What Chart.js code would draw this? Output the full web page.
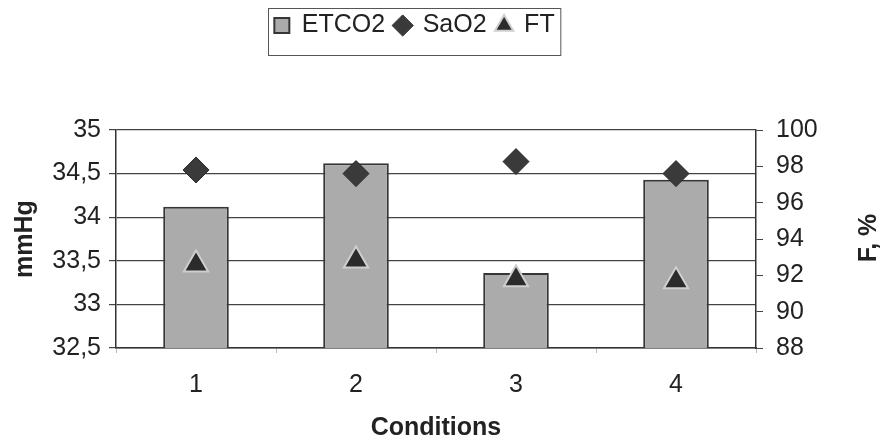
<!DOCTYPE html>
<html>
<head>
<meta charset="utf-8">
<script src="https://cdn.jsdelivr.net/npm/chart.js@4"></script>
<style>
  body { margin: 0; background: #fff; }
  canvas { display: block; }
</style>
</head>
<body>
<canvas id="chart" width="880" height="441"></canvas>
<script>
// values
const conditions = ['1', '2', '3', '4'];
const etco2 = [34.12, 34.62, 33.36, 34.43];   // mmHg, left axis
const sao2 = [97.8, 97.6, 98.26, 97.6];       // %, right axis
const ft = [92.6, 92.82, 91.78, 91.68];       // %, right axis

const FONT = "'Liberation Sans', Arial, sans-serif";

// box round the legend and the clipped right-hand axis title
const extras = {
  id: 'extras',
  afterDraw(chart) {
    const ctx = chart.ctx;
    const boxes = chart.legend.legendHitBoxes;
    if (boxes && boxes.length) {
      const left = Math.min(...boxes.map(b => b.left));
      const right = Math.max(...boxes.map(b => b.left + b.width));
      const mid = (Math.min(...boxes.map(b => b.top)) + Math.max(...boxes.map(b => b.top + b.height))) / 2;
      ctx.save();
      ctx.strokeStyle = '#555';
      ctx.lineWidth = 1;
      ctx.strokeRect(Math.round(left) - 5.5, Math.round(mid) - 17.5, right - left + 12, 47);
      ctx.restore();
    }
    ctx.save();
    ctx.translate(876, 238);
    ctx.rotate(-Math.PI / 2);
    ctx.font = 'bold 25px ' + FONT;
    ctx.fillStyle = '#222';
    ctx.textAlign = 'center';
    ctx.textBaseline = 'alphabetic';
    ctx.fillText('F, %', 0, 0);
    ctx.restore();
  }
};

new Chart(document.getElementById('chart'), {
  data: {
    labels: conditions,
    datasets: [
      {
        type: 'bar',
        label: 'ETCO2',
        data: etco2,
        yAxisID: 'y',
        backgroundColor: '#ababab',
        borderColor: '#363636',
        borderWidth: 2,
        categoryPercentage: 1,
        barPercentage: 0.41,
        pointStyle: 'rect',
        order: 3
      },
      {
        type: 'line',
        label: 'SaO2',
        data: sao2,
        yAxisID: 'y1',
        showLine: false,
        pointStyle: 'rectRot',
        pointRadius: 13,
        pointBackgroundColor: '#3a3a3a',
        pointBorderColor: '#2a2a2a',
        pointBorderWidth: 1,
        backgroundColor: '#2a2a2a',
        borderColor: '#2a2a2a',
        order: 1
      },
      {
        type: 'line',
        label: 'FT',
        data: ft,
        yAxisID: 'y1',
        showLine: false,
        pointStyle: 'triangle',
        pointRadius: 14,
        pointBackgroundColor: '#2b2b2b',
        pointBorderColor: '#cfcfcf',
        pointBorderWidth: 2,
        backgroundColor: '#2b2b2b',
        borderColor: '#2b2b2b',
        order: 2
      }
    ]
  },
  options: {
    responsive: false,
    animation: false,
    layout: { padding: { top: 3, left: 0, right: 51, bottom: 0 } },
    plugins: {
      tooltip: { enabled: false },
      legend: {
        position: 'top',
        labels: {
          usePointStyle: true,
          boxWidth: 15,
          boxHeight: 15,
          padding: 10,
          color: '#222',
          font: { family: FONT, size: 25 },
          sort: (a, b) => a.datasetIndex - b.datasetIndex
        }
      },
      // empty title used only as a spacer between legend and plot
      title: {
        display: true,
        text: '',
        weight: 500,
        font: { size: 10 },
        padding: { top: 70, bottom: 0 }
      }
    },
    scales: {
      x: {
        offset: true,
        grid: { drawOnChartArea: false, tickLength: 5, color: '#bbb', offset: true },
        border: { color: '#333', width: 1.5 },
        ticks: { color: '#222', font: { family: FONT, size: 25 }, padding: 17 },
        title: {
          display: true,
          text: 'Conditions',
          color: '#222',
          font: { family: FONT, size: 25, weight: 'bold', lineHeight: 1 },
          padding: { top: 0, bottom: 0 }
        },
        afterFit: s => { s.height = 93; }
      },
      y: {
        position: 'left',
        min: 32.5,
        max: 35,
        ticks: {
          stepSize: 0.5,
          color: '#222',
          padding: 8,
          font: { family: FONT, size: 25 },
          callback: v => String(v).replace('.', ',')
        },
        grid: { color: '#444', lineWidth: 1.2, tickLength: 7 },
        border: { color: '#333', width: 1.5 },
        title: {
          display: true,
          text: 'mmHg',
          color: '#222',
          font: { family: FONT, size: 25, weight: 'bold' },
          padding: { top: 10 }
        },
        afterFit: s => { s.width = 116; }
      },
      y1: {
        position: 'right',
        min: 88,
        max: 100,
        ticks: { stepSize: 2, color: '#222', padding: 13, font: { family: FONT, size: 25 } },
        grid: { drawOnChartArea: false, color: '#444', tickLength: 7 },
        border: { color: '#333', width: 1.5 },
        afterFit: s => { s.width = 73; }
      }
    }
  },
  plugins: [extras]
});
</script>
</body>
</html>
